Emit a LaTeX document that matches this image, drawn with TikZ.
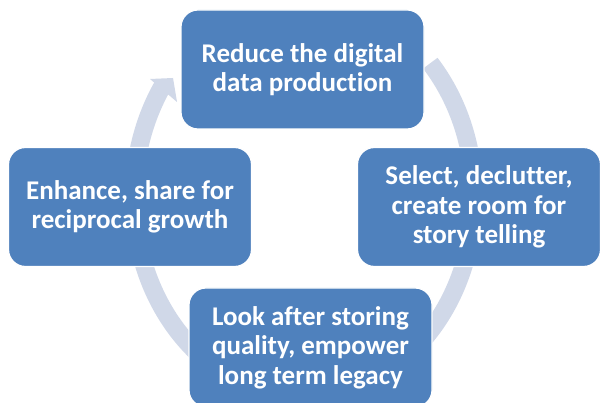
\documentclass[tikz,border=0pt]{standalone}
\usepackage{fontspec}
\setmainfont{Carlito}[Ligatures=NoCommon]
\definecolor{boxblue}{RGB}{79,129,189}
\definecolor{ringblue}{RGB}{208,216,232}
\begin{document}
\begin{tikzpicture}[x=1pt,y=-1pt,
  stage/.style={rectangle, rounded corners=17pt, fill=boxblue, draw=white,
    line width=1.2pt, minimum width=243pt, minimum height=119pt, text=white,
    align=center, font=\fontsize{27}{29.5}\selectfont\bfseries, inner sep=0pt},
  ring/.style={draw=ringblue, line width=18pt}]
\useasboundingbox (0,0) rectangle (600,403);
\fill[white] (0,0) rectangle (600,403);
% circular arrow behind the stages
\draw[ring] (430.3,63.2) arc[start angle=-42, end angle=214, x radius=170, y radius=200];
\fill[ringblue] (150,79) -- (173,78) -- (177,102) -- cycle;
% stages
\node[stage] (top) at (302.5,69.5) {Reduce the digital\\data production};
\node[stage] (right) at (479,207) {Select, declutter,\\create room for\\story telling};
\node[stage] (bottom) at (310.5,347.5) {Look after storing\\quality, empower\\long term legacy};
\node[stage] (left) at (130,207) {Enhance, share for\\reciprocal growth};
\end{tikzpicture}
\end{document}
